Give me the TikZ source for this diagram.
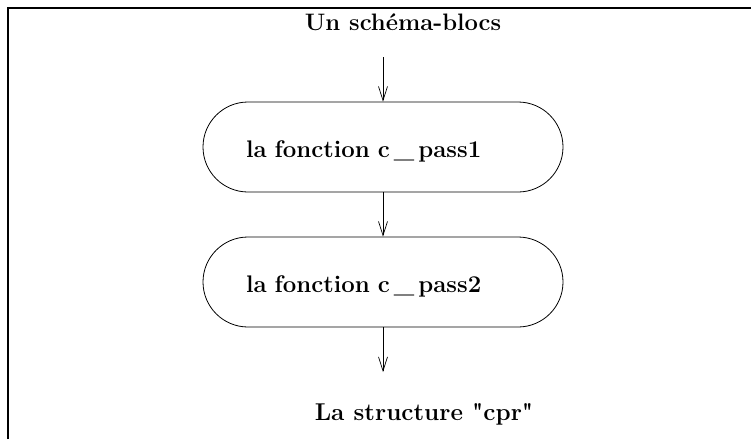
\documentclass[tikz,border=0pt]{standalone}
\usetikzlibrary{arrows.meta}
% underscore set apart from its neighbours
\newcommand{\spacedus}{\kern4pt\_\kern4pt}
\begin{document}
\begin{tikzpicture}[x=1pt,y=-1pt,
  frame/.style={line width=2.4pt},
  flow/.style={line width=0.7pt,-{Straight Barb[length=14pt,width=9pt,line width=0.7pt]}},
  block/.style={draw,line width=0.8pt,rounded corners=45pt,minimum width=360pt,minimum height=90pt,
    text width=274pt,align=left,inner xsep=43pt,inner ysep=0pt,text height=20pt,text depth=0pt,
    font=\fontsize{24}{28}\selectfont\bfseries},
  title/.style={anchor=base,font=\fontsize{23.8}{28}\selectfont\bfseries},
  result/.style={anchor=base,font=\fontsize{24.3}{28}\selectfont\bfseries}]
  \useasboundingbox (0,0) rectangle (751,439);
  % open frame: left and top sides only
  \draw[frame] (8,439) -- (8,8) -- (751,8);
  \node[title] (head) at (403,30) {Un schéma-blocs};
  \coordinate (in) at (383,57);
  \node[block] (p1) at (383,147) {la fonction c\spacedus pass1};
  \node[block] (p2) at (383,282) {la fonction c\spacedus pass2};
  \coordinate (out) at (383,372);
  \node[result] (res) at (424,420) {La structure \textquotedbl cpr\textquotedbl};
  \draw[flow] (in) -- (p1.north);
  \draw[flow] (p1.south) -- (p2.north);
  \draw[flow] (p2.south) -- (out);
\end{tikzpicture}
\end{document}
